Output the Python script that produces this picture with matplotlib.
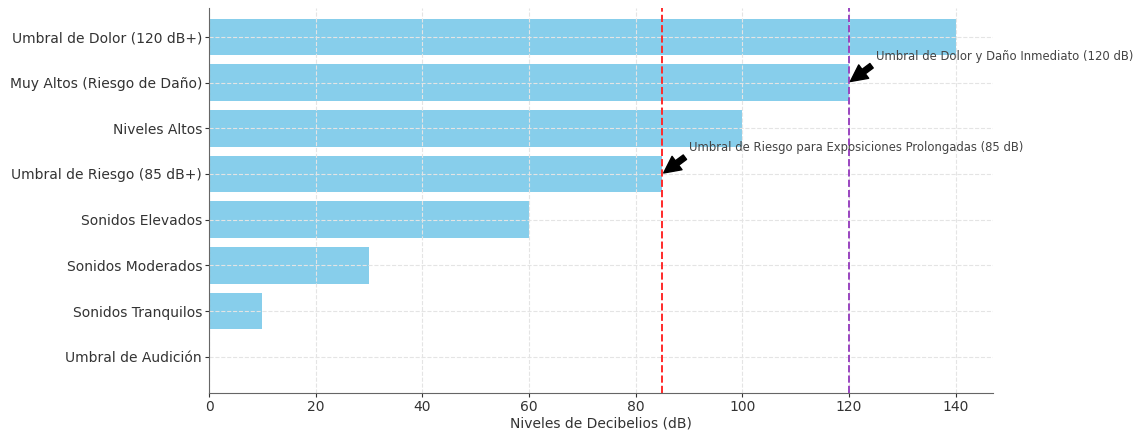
import matplotlib
matplotlib.use("Agg")
import matplotlib.pyplot as plt

# Niveles de sonido por categoría (de abajo hacia arriba)
categorias = [
    "Umbral de Audición",
    "Sonidos Tranquilos",
    "Sonidos Moderados",
    "Sonidos Elevados",
    "Umbral de Riesgo (85 dB+)",
    "Niveles Altos",
    "Muy Altos (Riesgo de Daño)",
    "Umbral de Dolor (120 dB+)",
]
decibelios = [0, 10, 30, 60, 85, 100, 120, 140]

umbral_riesgo = 85
umbral_dolor = 120

fig = plt.figure(figsize=(11.43, 4.3), dpi=100)
ax = fig.add_axes([209 / 1143, 1 - 393 / 430, (993 - 209) / 1143, (393 - 8) / 430])

ax.barh(categorias, decibelios, color="skyblue")
ax.axvline(umbral_riesgo, color="#ff2a2a", linestyle="--", linewidth=1.4)
ax.axvline(umbral_dolor, color="#9a45c0", linestyle="--", linewidth=1.4)

ax.annotate("Umbral de Riesgo para Exposiciones Prolongadas (85 dB)",
            xy=(umbral_riesgo, 4), xytext=(umbral_riesgo + 5, 4.5),
            arrowprops=dict(facecolor="black", shrink=0.05),
            fontsize=8.4, color="#444444")
ax.annotate("Umbral de Dolor y Daño Inmediato (120 dB)",
            xy=(umbral_dolor, 6), xytext=(umbral_dolor + 5, 6.5),
            arrowprops=dict(facecolor="black", shrink=0.05),
            fontsize=8.4, color="#444444")

ax.set_xlabel("Niveles de Decibelios (dB)", color="#333333", labelpad=2)
ax.set_xlim(0, 147)
ax.set_ylim(-0.79, 7.63)
ax.grid(True, linestyle="--", color="#e4e4e4", linewidth=0.8)
ax.spines["top"].set_visible(False)
ax.spines["right"].set_visible(False)
for s in ("left", "bottom"):
    ax.spines[s].set_color("#666666")
ax.tick_params(colors="#333333", labelsize=10, length=3, pad=2)

fig.savefig("out.png", dpi=100)
